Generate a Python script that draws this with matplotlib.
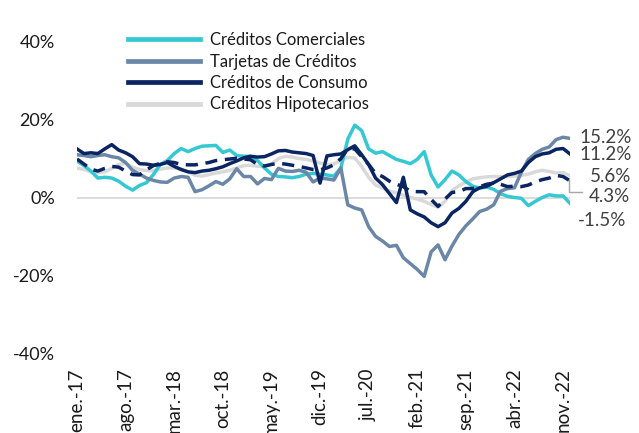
import matplotlib
matplotlib.use("Agg")
import matplotlib.pyplot as plt
from matplotlib.transforms import blended_transform_factory
from matplotlib.lines import Line2D

plt.rcParams['font.family'] = ['Lato', 'DejaVu Sans']

# ---- data (monthly, ene.-17 .. dic.-22), % yoy ----
months = ['ene.-17', 'feb.-17', 'mar.-17', 'abr.-17', 'may.-17', 'jun.-17', 'jul.-17', 'ago.-17',
          'sep.-17', 'oct.-17', 'nov.-17', 'dic.-17', 'ene.-18', 'feb.-18', 'mar.-18', 'abr.-18',
          'may.-18', 'jun.-18', 'jul.-18', 'ago.-18', 'sep.-18', 'oct.-18', 'nov.-18', 'dic.-18',
          'ene.-19', 'feb.-19', 'mar.-19', 'abr.-19', 'may.-19', 'jun.-19', 'jul.-19', 'ago.-19',
          'sep.-19', 'oct.-19', 'nov.-19', 'dic.-19', 'ene.-20', 'feb.-20', 'mar.-20', 'abr.-20',
          'may.-20', 'jun.-20', 'jul.-20', 'ago.-20', 'sep.-20', 'oct.-20', 'nov.-20', 'dic.-20',
          'ene.-21', 'feb.-21', 'mar.-21', 'abr.-21', 'may.-21', 'jun.-21', 'jul.-21', 'ago.-21',
          'sep.-21', 'oct.-21', 'nov.-21', 'dic.-21', 'ene.-22', 'feb.-22', 'mar.-22', 'abr.-22',
          'may.-22', 'jun.-22', 'jul.-22', 'ago.-22', 'sep.-22', 'oct.-22', 'nov.-22', 'dic.-22']

comerciales = [9.4, 8.2, 6.8, 5.0, 5.2, 5.0, 4.2, 2.9, 1.9, 3.1, 3.8, 5.9,
               8.5, 9.5, 11.3, 12.6, 11.8, 12.6, 13.2, 13.3, 13.4, 11.6, 12.2, 10.8,
               10.6, 10.6, 9.5, 7.6, 6.0, 5.4, 5.3, 5.1, 5.4, 6.0, 6.2, 6.0,
               5.8, 5.5, 7.6, 15.0, 18.6, 17.2, 12.5, 11.4, 11.8, 10.8, 9.8, 9.3,
               8.7, 9.8, 11.8, 5.8, 2.7, 4.6, 6.8, 5.8, 4.1, 2.9, 2.4, 2.7,
               2.1, 1.0, 0.3, 0.0, -0.2, -2.1, -1.0, 0.0, 0.7, 0.4, 0.4, -1.5]

tarjetas = [11.0, 10.8, 10.5, 10.8, 11.0, 10.5, 10.2, 9.0, 7.0, 6.0, 5.0, 4.4,
            4.0, 3.9, 5.0, 5.4, 5.2, 1.5, 2.0, 3.0, 4.1, 3.4, 4.8, 7.4,
            5.4, 5.4, 3.5, 4.9, 4.6, 7.5, 6.8, 6.7, 7.0, 6.5, 4.0, 5.0,
            4.8, 4.5, 7.6, -1.9, -2.7, -3.2, -7.5, -10.0, -11.2, -12.6, -12.3, -15.5,
            -17.0, -18.5, -20.3, -14.0, -12.2, -16.0, -12.5, -9.5, -7.3, -5.5, -3.6, -3.0,
            -1.9, 1.6, 2.3, 2.5, 6.5, 9.8, 11.3, 12.4, 13.0, 14.9, 15.5, 15.2]

consumo = [12.5, 11.3, 11.5, 11.3, 12.5, 13.6, 12.2, 11.5, 10.5, 8.7, 8.6, 8.3,
           8.5, 9.0, 8.0, 7.2, 6.6, 6.4, 6.8, 7.0, 7.4, 7.9, 8.7, 9.4,
           10.2, 10.6, 10.4, 10.5, 11.2, 12.0, 12.1, 11.7, 11.5, 11.3, 10.8, 3.7,
           10.7, 11.0, 11.2, 12.3, 13.3, 11.0, 8.5, 5.0, 3.3, 1.0, -1.3, 5.2,
           -3.2, -4.2, -5.0, -6.5, -7.5, -6.5, -4.0, -2.8, -1.0, 1.5, 2.5, 2.9,
           3.8, 4.8, 5.8, 6.2, 6.8, 9.0, 10.5, 11.2, 11.5, 12.4, 12.6, 11.2]

total = [9.9, 8.6, 7.3, 6.8, 7.5, 8.0, 7.8, 6.8, 5.9, 5.8, 7.1, 8.2,
         8.8, 9.2, 9.0, 8.5, 8.4, 8.4, 8.7, 9.0, 9.5, 9.7, 9.9, 10.1,
         9.9, 9.7, 8.5, 8.1, 8.5, 8.8, 8.6, 8.3, 8.0, 7.6, 7.2, 7.1,
         7.6, 8.4, 10.0, 12.5, 12.5, 10.5, 8.5, 6.2, 5.4, 4.2, 3.4, 2.8,
         1.6, 1.5, 1.5, -0.5, -2.3, -0.4, 1.3, 1.5, 2.3, 2.3, 2.8, 3.4,
         3.7, 3.4, 2.8, 2.9, 2.8, 3.2, 4.0, 4.6, 5.0, 5.7, 5.4, 4.3]

hipotecarios = [7.6, 7.2, 6.6, 6.3, 6.6, 7.5, 8.5, 8.8, 7.8, 7.2, 6.9, 6.9,
                7.3, 7.6, 7.6, 7.2, 6.6, 5.7, 5.5, 5.9, 6.3, 6.6, 7.0, 7.6,
                8.2, 8.3, 8.0, 8.0, 8.6, 10.0, 10.6, 10.4, 10.0, 9.8, 9.4, 8.9,
                8.5, 8.6, 9.6, 10.3, 10.2, 8.0, 5.2, 3.2, 2.4, 1.6, 1.2, 0.6,
                0.0, -0.4, -1.0, -1.8, -2.5, -1.0, 1.8, 3.0, 4.0, 4.8, 5.1, 5.3,
                5.4, 5.4, 5.4, 5.5, 5.7, 6.0, 6.6, 7.0, 6.7, 6.3, 6.4, 5.6]

series_names = ['Créditos Comerciales', 'Tarjetas de Créditos', 'Créditos de Consumo', 'Créditos Hipotecarios']
end_labels = ['15.2%', '11.2%', '5.6%', '4.3%', '-1.5%']
yticks = [-40, -20, 0, 20, 40]

# ---- styling ----
c_com = '#33c8d2'
c_tar = '#6b87a8'
c_con = '#0b2462'
c_hip = '#d9d9d9'

W, H = 639, 433
fig = plt.figure(figsize=(W / 100, H / 100), dpi=100)
L, R, T, B = 77, 570, 42, 353
ax = fig.add_axes([L / W, 1 - B / H, (R - L) / W, (B - T) / H])

x = list(range(len(months)))
ax.axhline(0, color='#d9d9d9', lw=1.3, zorder=1)
lw = 2.5
ax.plot(x, hipotecarios, color=c_hip, lw=lw, label=series_names[3], zorder=2)
ax.plot(x, comerciales, color=c_com, lw=lw, label=series_names[0], zorder=3)
ax.plot(x, tarjetas, color=c_tar, lw=lw, label=series_names[1], zorder=3)
ax.plot(x, total, color=c_con, lw=lw, ls=(0, (3.5, 2.2)), zorder=4)
ax.plot(x, consumo, color=c_con, lw=lw, label=series_names[2], zorder=5)

ax.set_xlim(0, len(months) - 1)
ax.set_ylim(-40, 40)
ax.set_yticks(yticks)
ax.set_yticklabels([f'{v}%' for v in yticks])
tick_idx = list(range(0, len(months), 7))
ax.set_xticks(tick_idx)
ax.set_xticklabels([months[i] for i in tick_idx], rotation=90, va='top', ha='center')
ax.tick_params(axis='y', length=0, pad=16, labelsize=13, labelcolor='#1a1a1a')
ax.tick_params(axis='x', length=0, pad=11, labelsize=13.5, labelcolor='#1a1a1a')
for s in ax.spines.values():
    s.set_visible(False)
ax.set_facecolor('none')

# legend
h, l = ax.get_legend_handles_labels()
hd = {lab: han for han, lab in zip(h, l)}
leg = fig.legend([hd[n] for n in series_names], series_names,
                 loc='upper left', bbox_to_anchor=(128 / W, 1 - 32 / H),
                 frameon=False, fontsize=12, handlelength=4.3, handletextpad=0.6,
                 labelspacing=0.33, borderpad=0, borderaxespad=0)
for ln in leg.get_lines():
    ln.set_linewidth(3.4)
for t in leg.get_texts():
    t.set_color('#1a1a1a')

# end labels
tr = blended_transform_factory(fig.transFigure, ax.transData)
label_pos = [(579, 15.4), (579, 11.1), (590, 5.3), (589, 0.2), (578, -6.0)]
for txt, (px, yv) in zip(end_labels, label_pos):
    fig.text(px / W, yv, txt, transform=tr, ha='left', va='center',
             fontsize=13.5, color='#404040')
# leader line for 4.3%
lx = [569 / W, 569 / W, 582 / W]
ly = [total[-1] + 0.2, 1.4, 1.4]
fig.add_artist(Line2D(lx, ly, transform=tr, color='#a6a6a6', lw=1.0))

fig.savefig('out.png', dpi=100)
